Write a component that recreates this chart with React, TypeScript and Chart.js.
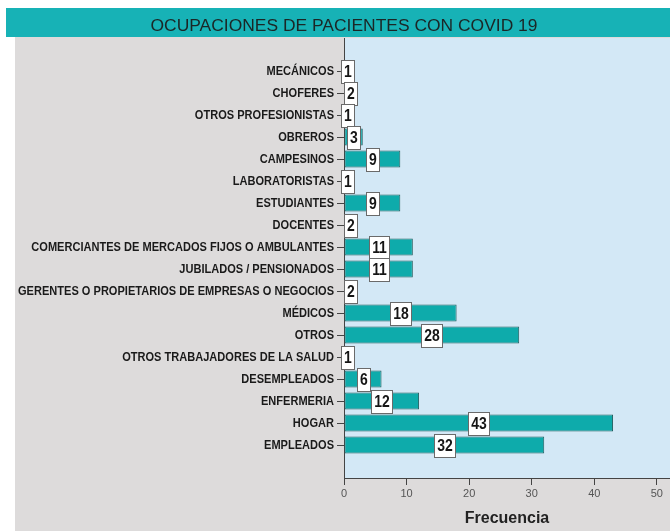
import React, { useEffect, useRef } from 'react';
import { Chart, registerables } from 'chart.js';

Chart.register(...registerables);

const titleText = 'OCUPACIONES DE PACIENTES CON COVID 19';
const xTitle = 'Frecuencia';

const categories = [
  'MECÁNICOS',
  'CHOFERES',
  'OTROS PROFESIONISTAS',
  'OBREROS',
  'CAMPESINOS',
  'LABORATORISTAS',
  'ESTUDIANTES',
  'DOCENTES',
  'COMERCIANTES DE MERCADOS FIJOS O AMBULANTES',
  'JUBILADOS / PENSIONADOS',
  'GERENTES O PROPIETARIOS DE EMPRESAS O NEGOCIOS',
  'MÉDICOS',
  'OTROS',
  'OTROS TRABAJADORES DE LA SALUD',
  'DESEMPLEADOS',
  'ENFERMERIA',
  'HOGAR',
  'EMPLEADOS',
];

const values = [1, 2, 1, 3, 9, 1, 9, 2, 11, 11, 2, 18, 28, 1, 6, 12, 43, 32];

const xMin = 0;
const xMax = 52.1;
const xStep = 10;

const SANS = "'Liberation Sans', Arial, sans-serif";
const NARROW_SCALE = 0.82;
const LABEL_SCALE = 0.85;

export default function App() {
  const ref = useRef<HTMLCanvasElement | null>(null);

  useEffect(() => {
    const canvas = ref.current;
    if (!canvas) return;
    const labels = ['', ...categories, ''];
    const data: (number | null)[] = [null, ...values, null];
    const last = labels.length - 1;

    const bgPlugin = {
      id: 'bgPlugin',
      beforeDraw(chart: any) {
        const { ctx, chartArea, width, height } = chart;
        ctx.save();
        ctx.fillStyle = '#ffffff';
        ctx.fillRect(0, 0, width, height);
        ctx.fillStyle = '#dddbdb';
        ctx.fillRect(15, 37, width - 15, height - 37);
        ctx.fillStyle = '#17b2b6';
        ctx.fillRect(6, 8, width - 6, 29);
        ctx.fillStyle = '#d3e8f6';
        ctx.fillRect(chartArea.left, chartArea.top, chartArea.right - chartArea.left, chartArea.bottom - chartArea.top);
        ctx.font = `16px ${SANS}`;
        ctx.fillStyle = '#1b2626';
        ctx.textAlign = 'center';
        ctx.textBaseline = 'alphabetic';
        ctx.translate(344, 31);
        ctx.scale(1.09, 1);
        ctx.fillText(titleText, 0, 0);
        ctx.restore();
      },
    };

    const yLabelPlugin = {
      id: 'yLabelPlugin',
      afterDraw(chart: any) {
        const { ctx } = chart;
        const ys = chart.scales.y;
        ctx.save();
        ctx.font = `bold 13px ${SANS}`;
        ctx.fillStyle = '#1a1a1a';
        ctx.textAlign = 'right';
        ctx.textBaseline = 'middle';
        ys.ticks.forEach((t: any, i: number) => {
          const label = ys.getLabelForValue(t.value);
          if (!label) return;
          const py = ys.getPixelForTick(i);
          ctx.save();
          ctx.translate(ys.right - 10, py);
          ctx.scale(LABEL_SCALE, 1);
          ctx.fillText(label, 0, 0.5);
          ctx.restore();
        });
        ctx.restore();
      },
    };

    const labelPlugin = {
      id: 'labelPlugin',
      afterDatasetsDraw(chart: any) {
        const { ctx } = chart;
        const meta = chart.getDatasetMeta(0);
        const ds = chart.data.datasets[0].data;
        ctx.save();
        ctx.font = `bold 17px ${SANS}`;
        ctx.textAlign = 'center';
        ctx.textBaseline = 'middle';
        meta.data.forEach((el: any, i: number) => {
          const v = ds[i];
          if (v == null) return;
          const { x, y, base } = el.getProps(['x', 'y', 'base'], true);
          const cx = (x + base) / 2;
          const text = String(v);
          const w = Math.round(ctx.measureText(text).width * NARROW_SCALE + 5);
          const h = 23;
          const left = Math.round(cx - w / 2) + 0.5;
          const top = Math.round(y - h / 2) + 0.5;
          ctx.fillStyle = '#ffffff';
          ctx.fillRect(left, top, w, h);
          ctx.strokeStyle = '#6a6a6a';
          ctx.lineWidth = 1;
          ctx.strokeRect(left, top, w, h);
          ctx.fillStyle = '#151515';
          ctx.save();
          ctx.translate(left + w / 2, y + 1);
          ctx.scale(NARROW_SCALE, 1);
          ctx.fillText(text, 0, 0);
          ctx.restore();
        });
        ctx.restore();
      },
    };

    const chart = new Chart(canvas, {
      type: 'bar',
      data: {
        labels,
        datasets: [
          {
            data,
            backgroundColor: '#0eabab',
            borderColor: '#235c5e',
            borderWidth: 1,
            borderSkipped: false,
            categoryPercentage: 1,
            barPercentage: 0.78,
          },
        ],
      },
      options: {
        indexAxis: 'y',
        responsive: false,
        animation: false,
        devicePixelRatio: 1,
        layout: { padding: { top: 38, left: 15, right: 0, bottom: 0 } },
        plugins: {
          legend: { display: false },
          tooltip: { enabled: false },
          title: { display: false },
        },
        scales: {
          x: {
            type: 'linear',
            position: 'bottom',
            min: xMin,
            max: xMax,
            afterFit: (s: any) => {
              s.height = 53;
            },
            ticks: {
              stepSize: xStep,
              includeBounds: false,
              font: { family: SANS, size: 11 },
              color: '#555555',
              padding: 2,
            },
            grid: {
              drawOnChartArea: false,
              drawTicks: true,
              tickLength: 7,
              color: '#444444',
            },
            border: { display: true, color: '#444444', width: 1 },
            title: {
              display: true,
              text: xTitle,
              font: { family: SANS, size: 16, weight: 'bold' },
              color: '#222222',
              padding: { top: 0, bottom: 3 },
            },
          },
          y: {
            type: 'category',
            afterFit: (s: any) => {
              s.width = 329;
            },
            ticks: {
              display: false,
              autoSkip: false,
            },
            grid: {
              offset: false,
              drawOnChartArea: false,
              drawTicks: true,
              tickLength: 7,
              color: '#444444',
              tickColor: (c: any) => (c.index === 0 || c.index === last ? 'rgba(0,0,0,0)' : '#444444'),
            },
            border: { display: true, color: '#444444', width: 1 },
          },
        },
      },
      plugins: [bgPlugin, labelPlugin, yLabelPlugin],
    } as any);

    return () => {
      chart.destroy();
    };
  }, []);

  return (
    <div style={{ position: 'absolute', left: 0, top: 0, width: 670, height: 531, background: '#ffffff' }}>
      <canvas ref={ref} width={670} height={531} style={{ display: 'block', width: 670, height: 531 }} />
    </div>
  );
}
